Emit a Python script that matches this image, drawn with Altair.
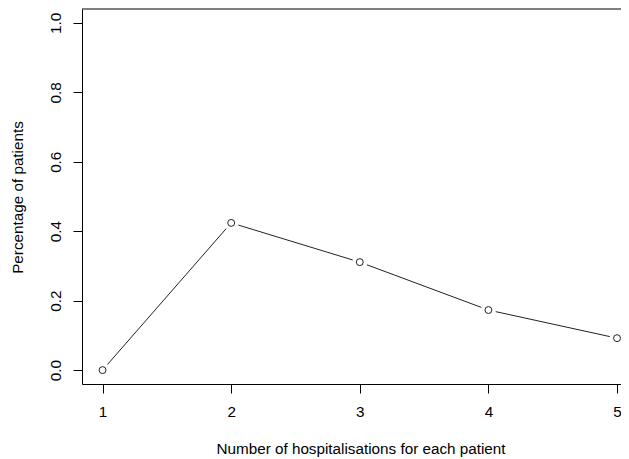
import altair as alt
import pandas as pd

# data
hospitalisations = [1, 2, 3, 4, 5]
percentage = [0.0, 0.424, 0.311, 0.173, 0.092]
x_ticks = [1, 2, 3, 4, 5]
y_ticks = [0.0, 0.2, 0.4, 0.6, 0.8, 1.0]

df = pd.DataFrame({"n": hospitalisations, "p": percentage})

FONT = "Liberation Sans"
FS = 15.25
W = 539      # visible part of the plot area (right edge cropped, as in the reference)
H = 375
FULL_W = 555.6
x_dom = [0.84, 0.84 + 4.32 * W / FULL_W]
y_dom = [-0.04, 1.04]

xs = alt.Scale(domain=x_dom, nice=False, zero=False)
ys = alt.Scale(domain=y_dom, nice=False, zero=False)

x_axis = alt.Axis(
    values=x_ticks, format="d", title="Number of hospitalisations for each patient",
    tickSize=9, labelPadding=11, labelBaseline="top", grid=False,
    domainColor="black", tickColor="black", labelColor="black", titleColor="black",
    labelFont=FONT, labelFontSize=FS, titleFont=FONT, titleFontSize=FS,
    titleFontWeight="normal", titleX=278.5, titleY=69, titleBaseline="alphabetic",
    titleAlign="center", titleAngle=0, labelFlush=False, labelOverlap=False,
)
y_axis = alt.Axis(
    values=y_ticks, format=".1f", title="Percentage of patients",
    tickSize=9, labelPadding=13, labelAngle=270, labelAlign="center",
    labelBaseline="alphabetic", grid=False,
    domainColor="black", tickColor="black", labelColor="black", titleColor="black",
    labelFont=FONT, labelFontSize=FS, titleFont=FONT, titleFontSize=FS,
    titleFontWeight="normal", titleX=-60, titleY=H / 2 + 0.5, titleBaseline="alphabetic",
    titleAlign="center", titleAngle=270, labelFlush=False, labelOverlap=False,
)

base = alt.Chart(df)

line = base.mark_line(color="#222", strokeWidth=1).encode(
    x=alt.X("n:Q", scale=xs, axis=x_axis),
    y=alt.Y("p:Q", scale=ys, axis=y_axis),
)
gaps = base.mark_point(shape="circle", filled=True, color="white", opacity=1, size=230, strokeWidth=0).encode(
    x=alt.X("n:Q", scale=xs), y=alt.Y("p:Q", scale=ys)
)
pts = base.mark_point(shape="circle", filled=False, color="#222", opacity=1, size=48, strokeWidth=1).encode(
    x=alt.X("n:Q", scale=xs), y=alt.Y("p:Q", scale=ys)
)
top = alt.Chart(alt.Data(values=[{}])).mark_rule(color="black", strokeWidth=1).encode(
    x=alt.value(0), x2=alt.value(W), y=alt.value(0)
)

chart = alt.layer(line, gaps, pts, top).properties(
    width=W, height=H,
    autosize=alt.AutoSizeParams(type="none"),
    padding={"left": 74, "top": 1, "right": 0, "bottom": 73},
    background="white",
).configure_view(stroke=None)

chart.save("out.html", embed_options={"renderer": "svg", "actions": False})
